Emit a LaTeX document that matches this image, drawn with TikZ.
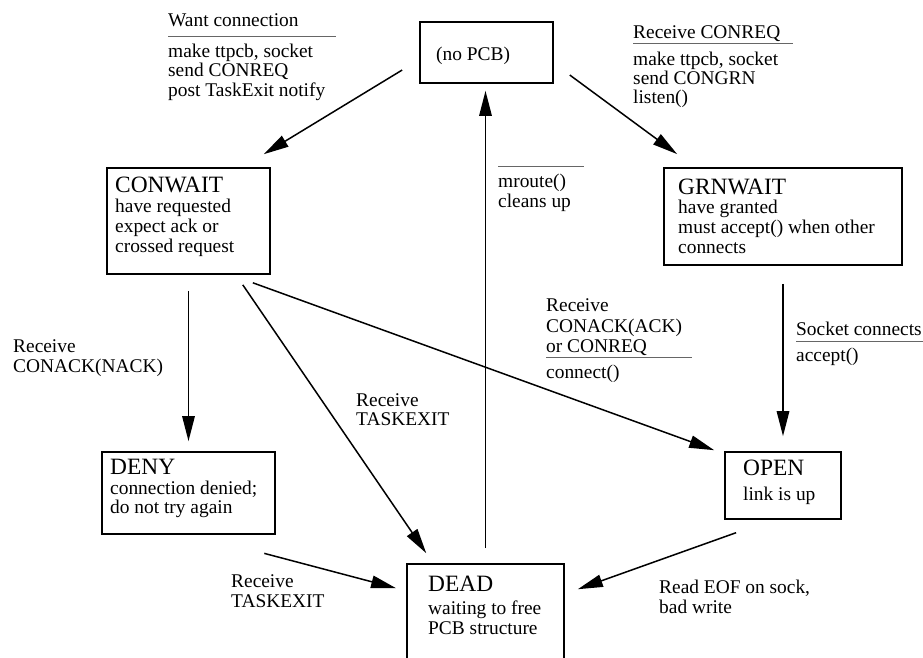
\documentclass[tikz,border=0pt]{standalone}
\usepackage{fontspec}
\setmainfont{Liberation Serif}
\usepackage{tikz}
\usetikzlibrary{positioning,calc,arrows.meta}

\newcommand{\lblfont}{\fontsize{19.4}{19.5}\selectfont}
\newcommand{\ttlfont}{\fontsize{23.4}{24}\selectfont}

\begin{document}
\begin{tikzpicture}[x=1pt, y=-1pt,
    statebox/.style={draw, line width=1.7pt, inner sep=0pt},
    txt/.style={anchor=base west, inner sep=0pt, align=left, font=\lblfont},
    trans/.style={-{Triangle[length=25pt,width=12.5pt]}, line width=1.5pt},
    sep/.style={draw, gray!80!black, line width=1pt}]
    \useasboundingbox (0,0) rectangle (923,657);
    \clip (0,0) rectangle (923,657);

    % (no PCB)
    \node[statebox, minimum width=133pt, minimum height=61pt] (nopcb) at (486.5,52.5) {};
    \node[txt] (nopcb-t) at (436,60.5) {(no PCB)};

    % CONWAIT
    \node[statebox, minimum width=163pt, minimum height=106pt] (conwait) at (188.5,221) {};
    \node[txt, font=\fontsize{19.4}{19.7}\selectfont] (conwait-t) at (115,252) {{\ttlfont CONWAIT}\\have requested\\expect ack or\\crossed request};

    % GRNWAIT
    \node[statebox, minimum width=238pt, minimum height=97pt] (grnwait) at (783,216.5) {};
    \node[txt, font=\fontsize{19.4}{19.6}\selectfont] (grnwait-t) at (678,253) {{\ttlfont GRNWAIT}\\have granted\\must accept() when other\\connects};

    % DENY
    \node[statebox, minimum width=173pt, minimum height=82pt] (deny) at (188.5,493) {};
    \node[txt, font=\fontsize{19.4}{19.2}\selectfont] (deny-t) at (110,513.3) {{\ttlfont DENY}\\connection denied;\\do not try again};

    % OPEN
    \node[statebox, minimum width=116pt, minimum height=67pt] (open) at (783,485.5) {};
    \node[txt] (open-t) at (743,500.7) {{\ttlfont OPEN}\\[5.5pt]link is up};

    % DEAD
    \node[statebox, minimum width=157pt, minimum height=116pt] (dead) at (485.5,622) {};
    \node[txt] (dead-t) at (428,634) {{\ttlfont DEAD}\\[3.8pt]waiting to free\\PCB structure};

    % transition labels
    \node[txt] (wantlbl) at (168,96) {Want connection\\[11.5pt]make ttpcb, socket\\send CONREQ\\post TaskExit notify};
    \draw[sep] ([yshift=60pt]wantlbl.base west) -- ++(168,0);

    \node[txt, font=\fontsize{19.4}{19}\selectfont] (reqlbl) at (633,103) {Receive CONREQ\\[7.7pt]make ttpcb, socket\\send CONGRN\\listen()};
    \draw[sep] ([yshift=59.7pt]reqlbl.base west) -- ++(160,0);

    \node[txt] (cleanlbl) at (498,207) {mroute()\\cleans up};
    \draw[sep] ([yshift=41pt]cleanlbl.base west) -- ++(86,0);

    \node[txt] (nacklbl) at (13,372) {Receive\\CONACK(NACK)};

    \node[txt] (exitlbl) at (356,425.7) {Receive\\TASKEXIT};

    \node[txt] (acklbl) at (546,378) {Receive\\[1.2pt]CONACK(ACK)\\or CONREQ\\[6.5pt]connect()};
    \draw[sep] ([yshift=20.3pt]acklbl.base west) -- ++(146,0);

    \node[txt] (socklbl) at (796,361.7) {Socket connects\\[7.2pt]accept()};
    \draw[sep] ([yshift=20.7pt]socklbl.base west) -- ++(135,0);

    \node[txt] (denyexit) at (231,607) {Receive\\TASKEXIT};

    \node[txt] (eoflbl) at (659,613) {Read EOF on sock,\\bad write};

    % transitions
    \draw[trans, shorten <=19.9pt, shorten >=25pt] ([yshift=-7.2pt]nopcb.west) -- ([xshift=-28.4pt]conwait.north east);
    \draw[trans, shorten <=19.8pt, shorten >=22pt] ([yshift=-10.8pt]nopcb.east) -- ([xshift=31.7pt]grnwait.north west);
    \draw[trans, shorten <=15pt, shorten >=7pt] (dead.north) -- (dead.north |- nopcb.south);
    \draw[trans, shorten <=16pt, shorten >=10pt] (conwait.south) -- (conwait.south |- deny.north);
    \draw[trans, shorten <=12.1pt, shorten >=12.1pt] ([xshift=-34.9pt]conwait.south east) -- ([xshift=26.9pt]dead.north west);
    \draw[trans, shorten <=23.3pt, shorten >=10.6pt] ([xshift=-39.9pt]conwait.south east) -- ([yshift=-2.65pt]open.north west);
    \draw[trans, shorten <=18pt, shorten >=15pt] (grnwait.south) -- (open.north);
    \draw[trans, shorten <=72.5pt, shorten >=10.4pt] ([xshift=5.7pt]deny.south) -- ([yshift=-27.7pt]dead.north west);
    \draw[trans, shorten <=38.2pt, shorten >=13.8pt] ([xshift=47.9pt]open.south west) -- ([yshift=-30.7pt]dead.north east);
\end{tikzpicture}
\end{document}
